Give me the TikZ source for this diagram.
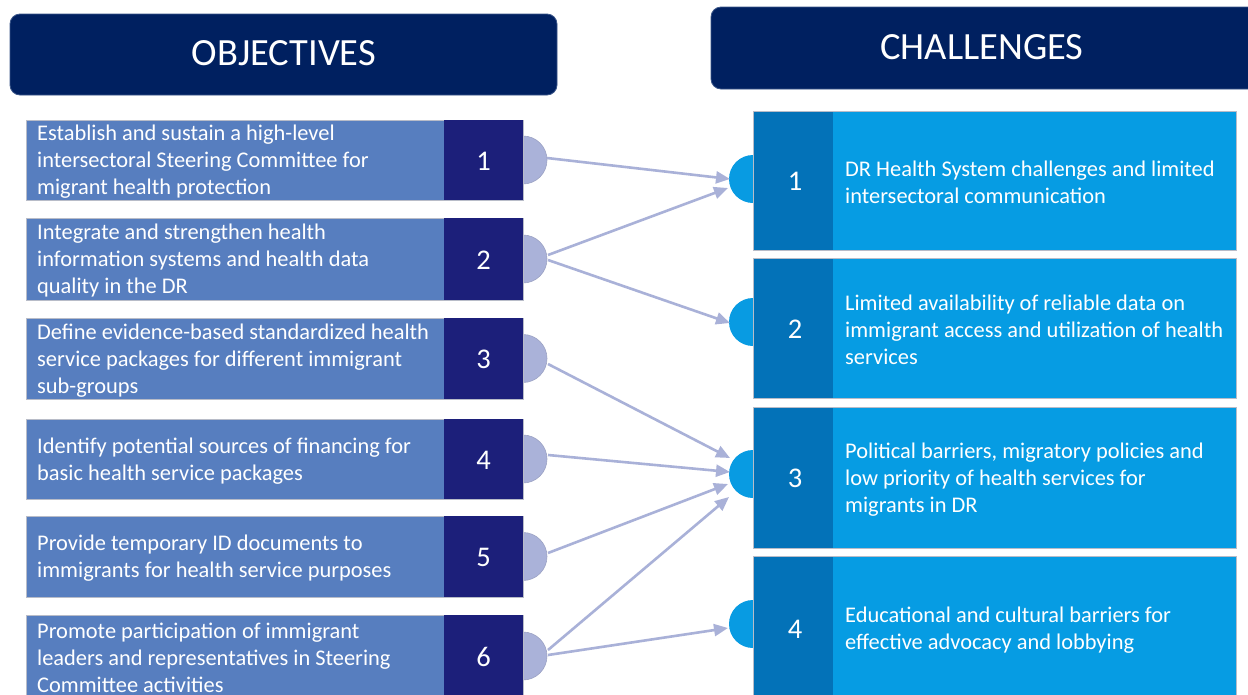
\documentclass[tikz,border=0pt]{standalone}
\usepackage{fontspec}
\setmainfont{Carlito}
\usetikzlibrary{arrows.meta}
\definecolor{hdr}{HTML}{002060}
\definecolor{hdredge}{HTML}{3A5588}
\definecolor{objlight}{HTML}{577EBF}
\definecolor{objdark}{HTML}{1C1F7A}
\definecolor{objcirc}{HTML}{AAB2D9}
\definecolor{objcircedge}{HTML}{9CA3C4}
\definecolor{chdark}{HTML}{0372B8}
\definecolor{chlight}{HTML}{069CE3}
\definecolor{chcirc}{HTML}{089BE2}
\definecolor{arr}{HTML}{A9B1D8}
\definecolor{boxedge}{HTML}{B8BCC8}

\newcommand\objitem[4]{% #1 number, #2 top, #3 bottom, #4 text
  \pgfmathsetmacro\yc{(#2+#3)/2}
  \filldraw[fill=objcirc, draw=objcircedge, line width=0.6pt] (523,\yc) circle[radius=24];
  \fill[objlight] (26,#2) rectangle (444,#3);
  \draw[draw=boxedge, line width=0.6pt] (26,#2) rectangle (523,#3);
  \fill[objdark] (444,#2) rectangle (523,#3);
  \node[objtxt, anchor=west] (ot#1) at (37,\yc+2) {#4};
  \node[numtxt] (on#1) at (483.5,\yc+1) {#1};
}
\newcommand\chalitem[5]{% #1 number, #2 top, #3 bottom, #4 circle y, #5 text
  \pgfmathsetmacro\yc{(#2+#3)/2}
  \fill[chcirc] (753,#4) circle[radius=24];
  \fill[chlight] (753,#2) rectangle (1236,#3);
  \fill[chdark] (753,#2) rectangle (833,#3);
  \draw[draw=boxedge, line width=0.6pt] (753,#2) rectangle (1236,#3);
  \node[objtxt, anchor=west] (ct#1) at (845,\yc+2) {#5};
  \node[numtxt] (cn#1) at (795,\yc+1) {#1};
}

\begin{document}
\begin{tikzpicture}[x=1pt,y=-1pt,
  header/.style={fill=hdr, draw=hdredge, line width=0.8pt, rounded corners=10pt},
  hdrtext/.style={text=white, font=\fontsize{38.5}{42}\selectfont, inner sep=0pt},
  objtxt/.style={text=white, font=\fontsize{22.4}{27}\selectfont, align=left, inner sep=0pt},
  numtxt/.style={text=white, font=\fontsize{28.5}{32}\selectfont, inner sep=0pt},
  link/.style={draw=arr, line width=2.6pt, -{Triangle[length=14pt,width=12pt]}}
]
\useasboundingbox (0,0) rectangle (1248,694);
\clip (0,0) rectangle (1248,694);
\fill[white] (0,0) rectangle (1248,694);

% headers
\draw[header] (10,14) rectangle (557,95);
\node[hdrtext] (hobj) at (284,53) {OBJECTIVES};
\draw[header] (711,7) rectangle (1270,89);
\node[hdrtext] (hch) at (982,47) {CHALLENGES};

% objectives
\objitem{1}{120}{200}{Establish and sustain a high-level\\intersectoral Steering Committee for\\migrant health protection}
\objitem{2}{218}{300}{Integrate and strengthen health\\information systems and health data\\quality in the DR}
\objitem{3}{318}{399}{Define evidence-based standardized health\\service packages for different immigrant\\sub-groups}
\objitem{4}{419}{499}{Identify potential sources of financing for\\basic health service packages}
\objitem{5}{516}{597}{Provide temporary ID documents to\\immigrants for health service purposes}
\objitem{6}{615}{697}{Promote participation of immigrant\\leaders and representatives in Steering\\Committee activities}

% challenges
\chalitem{1}{111}{250}{179}{DR Health System challenges and limited\\intersectoral communication}
\chalitem{2}{258}{398}{322}{Limited availability of reliable data on\\immigrant access and utilization of health\\services}
\chalitem{3}{407}{548}{474}{Political barriers, migratory policies and\\low priority of health services for\\migrants in DR}
\chalitem{4}{556}{700}{624}{Educational and cultural barriers for\\effective advocacy and lobbying}

% connector end points
\coordinate (s1) at (547,158);
\coordinate (s2a) at (548,255);
\coordinate (s2b) at (548,260);
\coordinate (s3) at (548,364);
\coordinate (s4) at (548,455);
\coordinate (s5) at (548,553);
\coordinate (s6a) at (548,650);
\coordinate (s6b) at (548,655);
\coordinate (e1a) at (730,179);
\coordinate (e1b) at (728,188);
\coordinate (e2) at (730,323);
\coordinate (e3a) at (730,458);
\coordinate (e3b) at (730,472);
\coordinate (e3c) at (728,484);
\coordinate (e3d) at (729,497);
\coordinate (e4) at (728,628);

\draw[link] (s1) -- (e1a);
\draw[link] (s2a) -- (e1b);
\draw[link] (s2b) -- (e2);
\draw[link] (s3) -- (e3a);
\draw[link] (s4) -- (e3b);
\draw[link] (s5) -- (e3c);
\draw[link] (s6a) -- (e3d);
\draw[link] (s6b) -- (e4);
\end{tikzpicture}
\end{document}
